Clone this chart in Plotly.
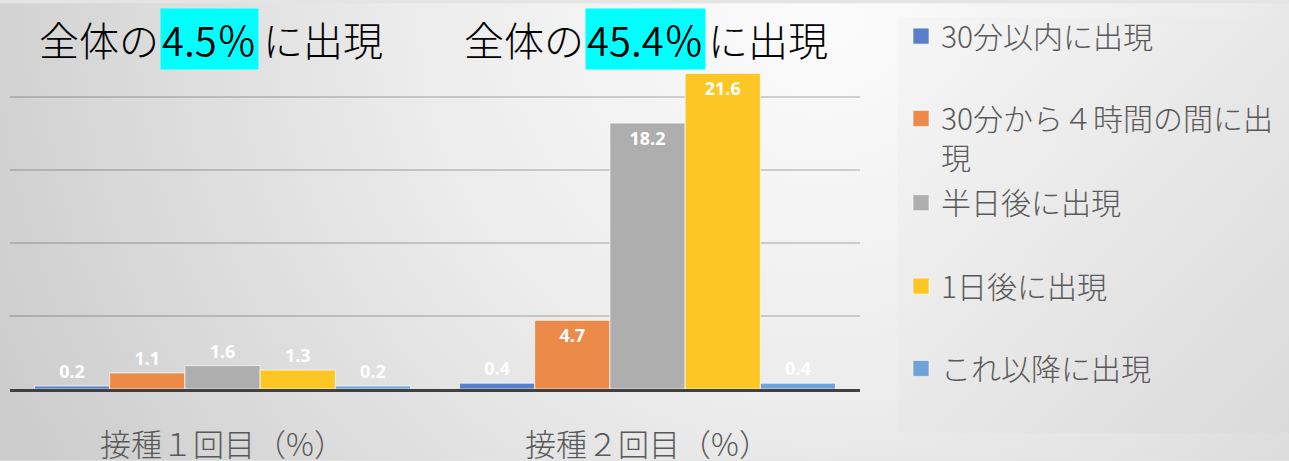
import base64
import plotly.graph_objects as go

categories = ["接種１回目（%）", "接種２回目（%）"]
series_names = ["30分以内に出現", "30分から４時間の間に出<br>現", "半日後に出現", "1日後に出現", "これ以降に出現"]
within_30min = [0.2, 0.4]
min30_to_4h = [1.1, 4.7]
half_day = [1.6, 18.2]
one_day = [1.3, 21.6]
later = [0.2, 0.4]
series_values = [within_30min, min30_to_4h, half_day, one_day, later]
colors = ["#5A7FCA", "#EC8A4A", "#AEAEAE", "#FCC624", "#6EA2D8"]
totals = ["4.5％", "45.4％"]

W, H = 1289, 461
L, R, T, B = 10, 429, 20, 72
pw, ph = W - L - R, H - T - B

def px(x):
    return (x - L) / pw

def py(y):
    return (H - B - y) / ph

FONT = "Noto Sans CJK JP"

svg = f'''<svg xmlns="http://www.w3.org/2000/svg" width="{W}" height="{H}" viewBox="0 0 {W} {H}" preserveAspectRatio="none">
<defs>
<radialGradient id="bg" gradientUnits="userSpaceOnUse" cx="820" cy="0" r="900">
<stop offset="0" stop-color="#fcfcfc"/>
<stop offset="0.45" stop-color="#ececec"/>
<stop offset="1" stop-color="#cdcdcd"/>
</radialGradient>
<linearGradient id="lg" x1="0" y1="0" x2="1" y2="1">
<stop offset="0" stop-color="#f6f6f6"/>
<stop offset="1" stop-color="#dadada"/>
</linearGradient>
</defs>
<rect x="0" y="0" width="{W}" height="{H}" fill="url(#bg)"/>
<rect x="898" y="14" width="{W-898}" height="419" fill="url(#lg)"/>
</svg>'''
src = "data:image/svg+xml;base64," + base64.b64encode(svg.encode("utf-8")).decode()

fig = go.Figure()

for i, (name, vals, col) in enumerate(zip(series_names, series_values, colors)):
    fig.add_trace(go.Bar(
        x=categories, y=vals, name=name, marker=dict(color=col, line=dict(color="rgba(255,255,255,0.7)", width=1)),
        text=[f"{v:.1f}" for v in vals],
        textposition=["inside" if v >= 3 else "outside" for v in vals],
        insidetextanchor="end",
        textangle=0,
        textfont=dict(family="Noto Sans", size=18, color="white", weight="bold"),
        outsidetextfont=dict(family="Noto Sans", size=18, color="white", weight="bold"),
        insidetextfont=dict(family="Noto Sans", size=18, color="white", weight="bold"),
        cliponaxis=False,
        showlegend=False,
        hoverinfo="skip",
    ))

legend_rows = [35, 118, 203, 287, 370]
for i, (name, col) in enumerate(zip(series_names, colors)):
    lk = "legend" if i == 0 else f"legend{i+1}"
    fig.add_trace(go.Scatter(
        x=[None], y=[None], mode="markers", name=name,
        marker=dict(symbol="square", size=17, color=col, line=dict(color="rgba(255,255,255,0.6)", width=1)),
        legend=lk, showlegend=True,
    ))

layout_legends = {}
for i, row in enumerate(legend_rows):
    lk = "legend" if i == 0 else f"legend{i+1}"
    layout_legends[lk] = dict(
        x=px(901), y=py(row - 28), xanchor="left", yanchor="top",
        bgcolor="rgba(0,0,0,0)", valign="top",
        font=dict(family=FONT, size=30, color="#595959", weight=300),
        itemclick=False, itemdoubleclick=False,
    )

annotations = []
title_specs = [(209.5, 161, 261), (645, 586, 706)]
for (cx, lx, rx), tot in zip(title_specs, totals):
    yc = py(36)
    annotations.append(dict(x=px(lx), y=yc, xref="paper", yref="paper", text="全体の",
                            xanchor="right", yanchor="middle", showarrow=False,
                            font=dict(family=FONT, size=40, color="black", weight=300)))
    annotations.append(dict(x=px(cx), y=yc, xref="paper", yref="paper", text=tot,
                            xanchor="center", yanchor="middle", showarrow=False, bgcolor="#00FFFF",
                            borderpad=1, font=dict(family=FONT, size=40, color="black", weight=350)))
    annotations.append(dict(x=px(rx), y=yc, xref="paper", yref="paper", text="に出現",
                            xanchor="left", yanchor="middle", showarrow=False,
                            font=dict(family=FONT, size=40, color="black", weight=300)))

fig.update_layout(
    width=W, height=H,
    margin=dict(l=L, r=R, t=T, b=B, pad=0),
    paper_bgcolor="#e4e4e4",
    plot_bgcolor="rgba(0,0,0,0)",
    barmode="group", bargap=0.115, bargroupgap=0,
    images=[dict(source=src, xref="paper", yref="paper", x=px(0), y=py(0),
                 sizex=W / pw, sizey=H / ph, sizing="stretch", xanchor="left", yanchor="top",
                 layer="below")],
    annotations=annotations,
    xaxis=dict(showline=True, linecolor="#404040", linewidth=3, showgrid=False, automargin=False,
               ticks="outside", ticklen=27, tickcolor="rgba(0,0,0,0)",
               tickfont=dict(family=FONT, size=31, color="#595959", weight=300), fixedrange=True),
    yaxis=dict(range=[0, 25.05], dtick=5, showticklabels=False, showgrid=True, automargin=False,
               gridcolor="rgba(0,0,0,0.16)", gridwidth=2, zeroline=False, fixedrange=True),
    **layout_legends,
)

fig.write_html("out.html", config={"displayModeBar": False},
               post_script="document.body.style.margin='0';document.body.style.overflow='hidden';")
